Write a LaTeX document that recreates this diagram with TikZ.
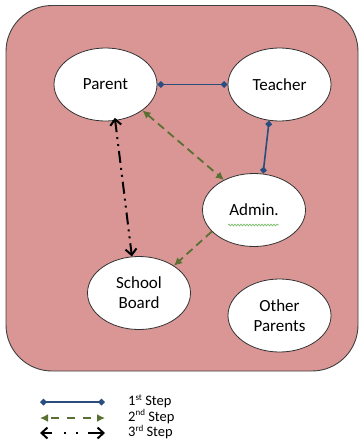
\documentclass[tikz,border=0pt]{standalone}
\usepackage{fontspec}
\setmainfont{Carlito}
\usetikzlibrary{shapes.geometric,arrows.meta,decorations.pathmorphing}
\definecolor{bgpink}{HTML}{D99694}
\definecolor{stepblue}{HTML}{2A4D80}
\definecolor{stepgreen}{HTML}{5A7033}
\definecolor{spellgreen}{HTML}{7CC06A}
\newcommand{\supx}[1]{\raisebox{0.35em}{\fontsize{9}{9}\selectfont #1}}
\tikzset{
  bubble/.style={ellipse, draw=black!80, line width=0.8pt, fill=white,
    minimum width=103pt, minimum height=73pt, inner sep=0pt, align=center,
    font=\fontsize{17}{20}\selectfont},
  firststep/.style={stepblue, line width=1.6pt,
    {Diamond[length=7pt,width=7pt]}-{Diamond[length=7pt,width=7pt]}},
  secondstep/.style={stepgreen, line width=1.8pt, dash pattern=on 8pt off 5pt,
    {Latex[length=8pt,width=8pt]}-{Latex[length=8pt,width=8pt]}},
  secondone/.style={stepgreen, line width=1.8pt, dash pattern=on 8pt off 5pt,
    -{Latex[length=8pt,width=8pt]}},
  thirdstep/.style={black, line width=2pt,
    dash pattern=on 12pt off 5pt on 2pt off 5pt on 2pt off 5pt,
    {Straight Barb[length=6pt,width=11pt,line width=2pt]}-{Straight Barb[length=6pt,width=11pt,line width=2pt]}},
  legendtext/.style={anchor=west, inner sep=0pt, text height=8pt, text depth=2pt,
    font=\fontsize{14.5}{16}\selectfont}
}
\begin{document}
\begin{tikzpicture}[x=1pt,y=-1pt]
\useasboundingbox (0,0) rectangle (359,444);
\fill[white] (0,0) rectangle (359,444);
\draw[fill=bgpink, draw=black!75, line width=0.9pt, rounded corners=46pt] (6,5.5) rectangle (358,371);

\node[bubble] (Parent) at (105.5,84.5) {Parent};
\node[bubble] (Teacher) at (279.5,84.5) {Teacher};
\node[bubble] (Admin) at (254,210) {Admin.};
\node[bubble] (School) at (139,293) {School\\Board};
\node[bubble] (Other) at (279.5,315.5) {Other\\Parents};

\draw[spellgreen, line width=0.7pt, decorate, decoration={snake, amplitude=0.9pt, segment length=3pt}]
  ([shift={(-26,15)}]Admin.center) -- ([shift={(25,15)}]Admin.center);

\draw[firststep] (Parent.east) -- (Teacher.west);
\draw[firststep] (Teacher.254) -- (Admin.76);
\draw[secondstep] (Parent.325) -- (Admin.135);
\draw[secondone] (Admin.207) -- (School.38);
\draw[thirdstep, shorten <=-3pt] (Parent.285) -- (School.101);

\coordinate (l1a) at (40,402); \coordinate (l1b) at (105,402);
\coordinate (l2a) at (40,418); \coordinate (l2b) at (105,418);
\coordinate (l3a) at (40,433); \coordinate (l3b) at (105,433);
\draw[firststep] (l1a) -- (l1b);
\draw[secondstep, dash pattern=on 8pt off 8pt, dash phase=-4pt] (l2a) -- (l2b);
\draw[thirdstep, dash pattern=on 10pt off 12pt on 2pt off 10pt on 2pt off 10pt on 20pt] (l3a) -- (l3b);
\node[legendtext] (t1) at (128,402.5) {1\supx{st} Step};
\node[legendtext] (t2) at (128,418) {2\supx{nd} Step};
\node[legendtext] (t3) at (128,433.5) {3\supx{rd} Step};
\end{tikzpicture}
\end{document}
